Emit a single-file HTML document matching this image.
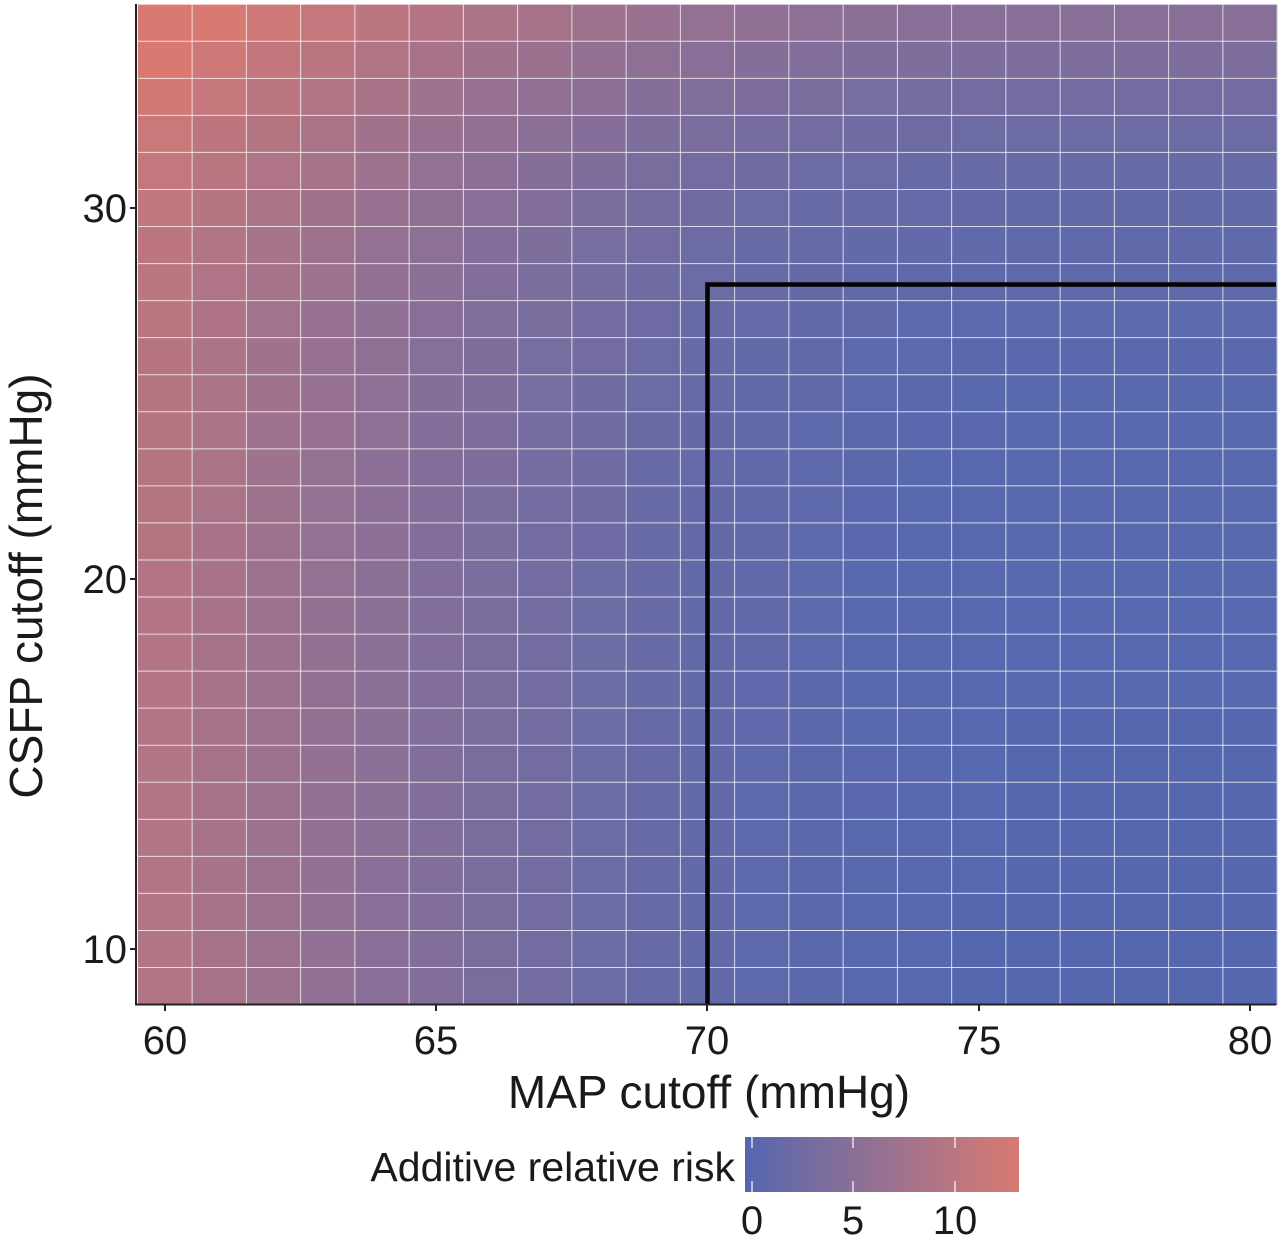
<!DOCTYPE html>
<html><head><meta charset="utf-8"><style>
html,body{margin:0;padding:0;background:#fff;}
svg{display:block;font-family:"Liberation Sans",Arial,sans-serif;}
</style></head><body>
<svg id="s" width="1280" height="1237" xmlns="http://www.w3.org/2000/svg">
<defs>
<linearGradient id="lg" x1="0" x2="1" y1="0" y2="0">
<stop offset="0" stop-color="#5566b0"/>
<stop offset="0.4" stop-color="#8a6f97"/>
<stop offset="1" stop-color="#d97a72"/>
</linearGradient>
</defs>
<g id="cells"></g>
<g id="grid" stroke="#fff" stroke-opacity="0.75" stroke-width="1"></g>
<path d="M707.5,1004 V284.5 H1276" fill="none" stroke="#000" stroke-width="4.5"/>
<g stroke="#222" stroke-width="2">
<line x1="136" y1="4" x2="136" y2="1005"/>
<line x1="135" y1="1004.5" x2="1276" y2="1004.5"/>
<line x1="130" y1="208" x2="136" y2="208"/>
<line x1="130" y1="579" x2="136" y2="579"/>
<line x1="130" y1="949" x2="136" y2="949"/>
<line x1="165" y1="1004" x2="165" y2="1011"/>
<line x1="436" y1="1004" x2="436" y2="1011"/>
<line x1="707" y1="1004" x2="707" y2="1011"/>
<line x1="979" y1="1004" x2="979" y2="1011"/>
<line x1="1250" y1="1004" x2="1250" y2="1011"/>
</g>
<g font-size="40" fill="#1a1a1a" text-anchor="end">
<text x="127" y="222">30</text>
<text x="127" y="593">20</text>
<text x="127" y="963">10</text>
</g>
<g font-size="40" fill="#1a1a1a" text-anchor="middle">
<text x="165" y="1054">60</text>
<text x="436" y="1054">65</text>
<text x="707" y="1054">70</text>
<text x="979" y="1054">75</text>
<text x="1250" y="1054">80</text>
</g>
<text x="709" y="1108" font-size="46" text-anchor="middle" fill="#1a1a1a">MAP cutoff (mmHg)</text>
<text transform="translate(42,586) rotate(-90)" font-size="46" text-anchor="middle" fill="#1a1a1a">CSFP cutoff (mmHg)</text>
<text x="735" y="1181" font-size="41" text-anchor="end" fill="#1a1a1a">Additive relative risk</text>
<rect x="745" y="1137" width="274" height="55" fill="url(#lg)"/>
<g stroke="#fff" stroke-width="1.5" stroke-opacity="0.8">
<line x1="752" y1="1137" x2="752" y2="1148"/><line x1="752" y1="1181" x2="752" y2="1192"/>
<line x1="853" y1="1137" x2="853" y2="1148"/><line x1="853" y1="1181" x2="853" y2="1192"/>
<line x1="955" y1="1137" x2="955" y2="1148"/><line x1="955" y1="1181" x2="955" y2="1192"/>
</g>
<g font-size="40" fill="#1a1a1a" text-anchor="middle">
<text x="752" y="1234">0</text>
<text x="853" y="1234">5</text>
<text x="955" y="1234">10</text>
</g>
</svg>
<script>
(function(){
var NS="http://www.w3.org/2000/svg";
var cells=document.getElementById("cells"),grid=document.getElementById("grid");
function X(v){return 165+(v-60)*54.25;}
function Y(v){return 208-(v-30)*37.05;}
var lo=[85,104,175],hi=[217,122,114];
function col(r){var t=Math.max(0,Math.min(1,r/13.2));
return "rgb("+[0,1,2].map(function(i){return Math.round(lo[i]+(hi[i]-lo[i])*t);}).join(",")+")";}
for(var x=60;x<=80;x++){
 var a=9.3*Math.pow(Math.max(0,1-(x-60)/16),2);
 for(var y=9;y<=35;y++){
  var b=5*Math.exp((y-35)/4);
  var r=document.createElementNS(NS,"rect");
  var x0=X(x-0.5),x1=X(x+0.5),y0=Y(y+0.5),y1=Y(y-0.5);
  r.setAttribute("x",x0);r.setAttribute("y",y0);
  r.setAttribute("width",x1-x0+0.5);r.setAttribute("height",y1-y0+0.5);
  r.setAttribute("fill",col(a+b));
  cells.appendChild(r);
 }
}
for(var x=60;x<=80;x++){var l=document.createElementNS(NS,"line");var xx=X(x+0.5);
 l.setAttribute("x1",xx);l.setAttribute("x2",xx);l.setAttribute("y1",Y(35.5));l.setAttribute("y2",Y(8.5));grid.appendChild(l);}
for(var y=9;y<=35;y++){var l=document.createElementNS(NS,"line");var yy=Y(y+0.5);
 l.setAttribute("x1",X(59.5));l.setAttribute("x2",X(80.5));l.setAttribute("y1",yy);l.setAttribute("y2",yy);grid.appendChild(l);}
})();
</script>
</body></html>
